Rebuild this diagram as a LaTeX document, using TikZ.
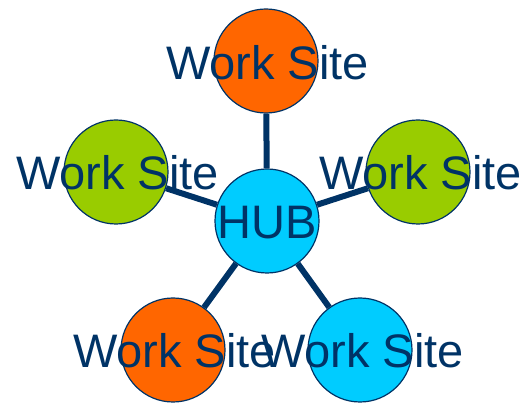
\documentclass[tikz,border=0pt]{standalone}
\usepackage{fontspec}
\setmainfont{Liberation Sans}
\definecolor{navy}{HTML}{003366}
\definecolor{sorange}{HTML}{FF6600}
\definecolor{sgreen}{HTML}{99CC00}
\definecolor{scyan}{HTML}{00CCFF}
\begin{document}
\begin{tikzpicture}[x=1pt,y=-1pt,
  site/.style={circle,draw=navy,line width=1.2pt,minimum size=104pt,inner sep=0pt},
  lbl/.style={anchor=base,text=navy,inner sep=0pt,font=\fontsize{47}{50}\selectfont},
  link/.style={draw=navy,line width=6pt}]
\useasboundingbox (0,0) rectangle (528,403);
\node[site,fill=scyan] (hub) at (267,221) {};
\node[site,fill=sorange] (top) at (266,61) {};
\node[site,fill=sgreen] (left) at (116,172) {};
\node[site,fill=sgreen] (right) at (418,172) {};
\node[site,fill=sorange] (bl) at (173,350) {};
\node[site,fill=scyan] (br) at (360,350) {};
\draw[link] (hub) -- (top);
\draw[link] (hub) -- (left);
\draw[link] (hub) -- (right);
\draw[link] (hub) -- (bl);
\draw[link] (hub) -- (br);
\node[lbl] (thub) at (267,239) {HUB};
\node[lbl] (ttop) at (267.5,80) {Work Site};
\node[lbl] (tleft) at (117.5,190) {Work Site};
\node[lbl] (tright) at (420.5,190) {Work Site};
\node[lbl] (tbl) at (174.5,368) {Work Site};
\node[lbl] (tbr) at (362.5,368) {Work Site};
\end{tikzpicture}
\end{document}
